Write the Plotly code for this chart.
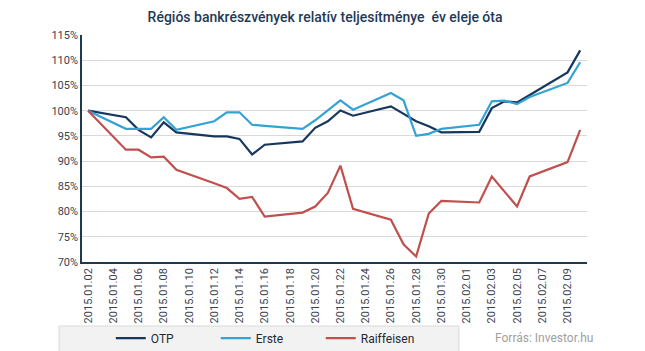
import plotly.graph_objects as go

dates = ["2015-01-02", "2015-01-05", "2015-01-06", "2015-01-07", "2015-01-08", "2015-01-09",
         "2015-01-12", "2015-01-13", "2015-01-14", "2015-01-15", "2015-01-16",
         "2015-01-19", "2015-01-20", "2015-01-21", "2015-01-22", "2015-01-23",
         "2015-01-26", "2015-01-27", "2015-01-28", "2015-01-29", "2015-01-30",
         "2015-02-02", "2015-02-03", "2015-02-04", "2015-02-05", "2015-02-06",
         "2015-02-09", "2015-02-10"]

otp = [100, 98.7, 96.2, 94.7, 97.7, 95.7, 94.9, 94.9, 94.4, 91.3, 93.25, 93.9, 96.6, 97.9,
       100.05, 99.0, 100.85, 99.35, 97.9, 96.9, 95.7, 95.8, 100.5, 101.85, 101.65, 103.1,
       107.6, 111.95]
erste = [100, 96.4, 96.4, 96.4, 98.7, 96.2, 97.9, 99.67, 99.67, 97.2, 97.0, 96.4, 98.1, 100.1,
         102.05, 100.2, 103.5, 102.05, 95.0, 95.4, 96.4, 97.2, 101.85, 101.98, 101.3, 102.7,
         105.5, 109.6]
raiffeisen = [100, 92.26, 92.26, 90.74, 90.87, 88.3, 85.6, 84.66, 82.5, 82.9, 79.0, 79.8, 81.0,
              83.7, 89.1, 80.55, 78.4, 73.5, 71.1, 79.6, 82.1, 81.8, 86.96, 84.0, 81.0, 86.96,
              89.8, 96.2]

series_names = ["OTP", "Erste", "Raiffeisen"]
series_colors = ["#17375e", "#35a2d4", "#c0504d"]

title_text = "Régiós bankrészvények relatív teljesítménye  év eleje óta"
source_text = "Forrás: Investor.hu"

FONT = "Roboto, Arial, sans-serif"

fig = go.Figure()
for name, vals, col in zip(series_names, [otp, erste, raiffeisen], series_colors):
    fig.add_trace(go.Scatter(x=dates, y=vals, mode="lines", name=name,
                             line=dict(color=col, width=2.2)))

fig.update_layout(
    width=645, height=351,
    margin=dict(l=82, r=58, t=35, b=89, autoexpand=False),
    paper_bgcolor="white", plot_bgcolor="white",
    font=dict(family=FONT, size=11, color="#3a3a3a"),
    title=dict(text=title_text, x=0.504, xanchor="center", y=0.952, yanchor="middle",
               font=dict(family=FONT, size=14, color="#1f3a56", weight=500)),
    showlegend=True,
    legend=dict(orientation="h", x=0.057, xanchor="left", y=-0.335, yanchor="middle",
                bgcolor="rgba(0,0,0,0)", borderwidth=0,
                font=dict(family=FONT, size=12, color="#1f2a36"),
                entrywidth=60, entrywidthmode="pixels", itemwidth=30,
                traceorder="normal"),
    shapes=[dict(type="rect", xref="paper", yref="paper",
                 x0=-0.0455, x1=0.7465, y0=-0.395, y1=-0.282,
                 fillcolor="#f2f2f2", line=dict(color="#d9d9d9", width=1), layer="below")],
    annotations=[dict(text=source_text, xref="paper", yref="paper", x=0.814, y=-0.335,
                      xanchor="left", yanchor="middle", showarrow=False,
                      font=dict(family=FONT, size=12, color="#a0a0a0"))],
)

fig.update_xaxes(
    type="date", automargin=False,
    range=["2015-01-01 12:30", "2015-02-10 13:00"],
    tick0="2015-01-02", dtick=2 * 86400000, tickformat="%Y.%m.%d",
    tickangle=-90, showgrid=False, showline=True, linecolor="#1f3a4f", linewidth=1.5,
    ticks="", tickfont=dict(family=FONT, size=11, color="#3a4250"),
    zeroline=False,
)
fig.update_yaxes(
    range=[70, 115], dtick=5, ticksuffix="%", showgrid=True, gridcolor="#d9d9d9", gridwidth=1,
    showline=True, linecolor="#1f3a4f", linewidth=1.5, ticks="", automargin=False,
    tickfont=dict(family=FONT, size=11, color="#3a4250"), zeroline=False,
)

fig.write_html("out.html")
